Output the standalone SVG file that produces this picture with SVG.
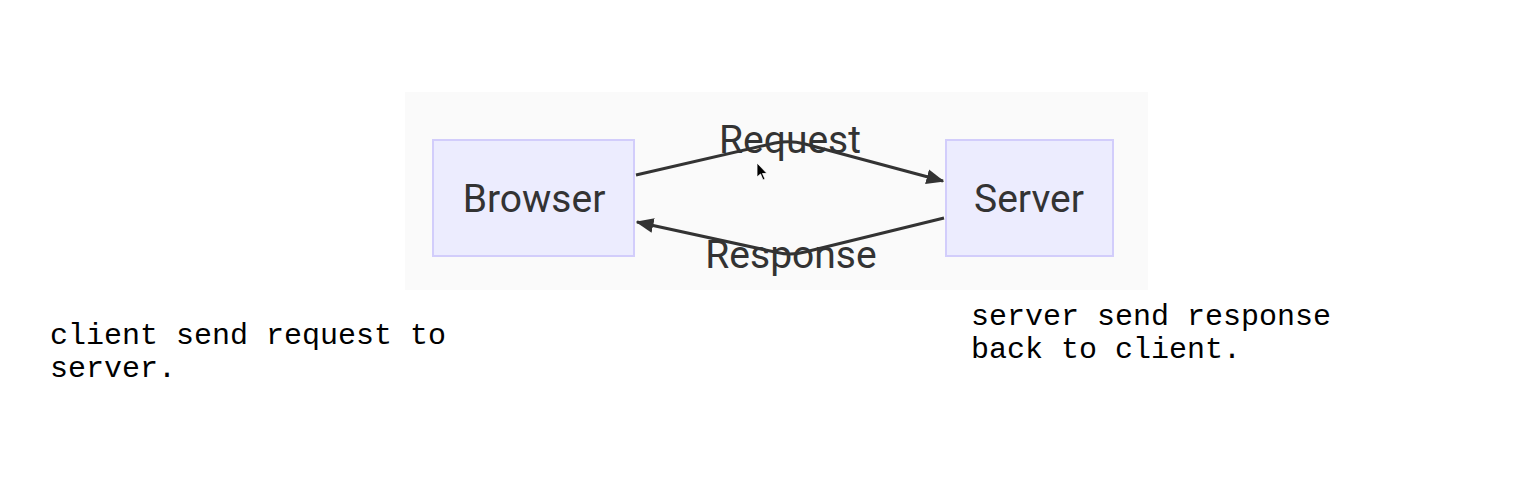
<svg xmlns="http://www.w3.org/2000/svg" width="1528" height="501" viewBox="0 0 1528 501">
<defs>
<style>
.node rect{fill:#ececfe;stroke:#d2cdfb;stroke-width:2}
.lbl{font-family:Roboto,"Liberation Sans",sans-serif;font-size:39px;fill:#333;text-anchor:middle}
.edge{fill:none;stroke:#333;stroke-width:3}
.note{font-family:"Liberation Mono",monospace;font-size:30px;fill:#000}
</style>
<marker id="arr" viewBox="0 0 12 10" refX="11" refY="5" markerWidth="6" markerHeight="6" markerUnits="strokeWidth" orient="auto">
<path d="M0,0 L12,5 L0,10 z" fill="#333"/>
</marker>
</defs>
<rect width="1528" height="501" fill="#ffffff"/>
<rect x="405" y="92" width="743" height="198" fill="#fafafa"/>
<g id="browser" class="node">
<rect x="433" y="140" width="201" height="116"/>
<text class="lbl" x="534" y="212">Browser</text>
</g>
<g id="server" class="node">
<rect x="946" y="140" width="167" height="116"/>
<text class="lbl" x="1029" y="212">Server</text>
</g>
<g id="connectors">
<path class="edge" d="M636,175 L775,143 Q790,140 805,144 L943,181" marker-end="url(#arr)"/>
<path class="edge" d="M944,218 L805,252 Q790,256 775,252 L637,222" marker-end="url(#arr)"/>
<text class="lbl" x="790" y="153">Request</text>
<text class="lbl" x="791" y="268">Response</text>
</g>
<path d="M757,163 L757,177 L760.5,174 L763,180 L765,179 L762.5,173.5 L767,173.5 z" fill="#000" stroke="#fff" stroke-width="0.8"/>
<g id="notes">
<text class="note" x="50" y="344">client send request to</text>
<text class="note" x="50" y="377">server.</text>
<text class="note" x="971" y="325">server send response</text>
<text class="note" x="971" y="358">back to client.</text>
</g>
</svg>
